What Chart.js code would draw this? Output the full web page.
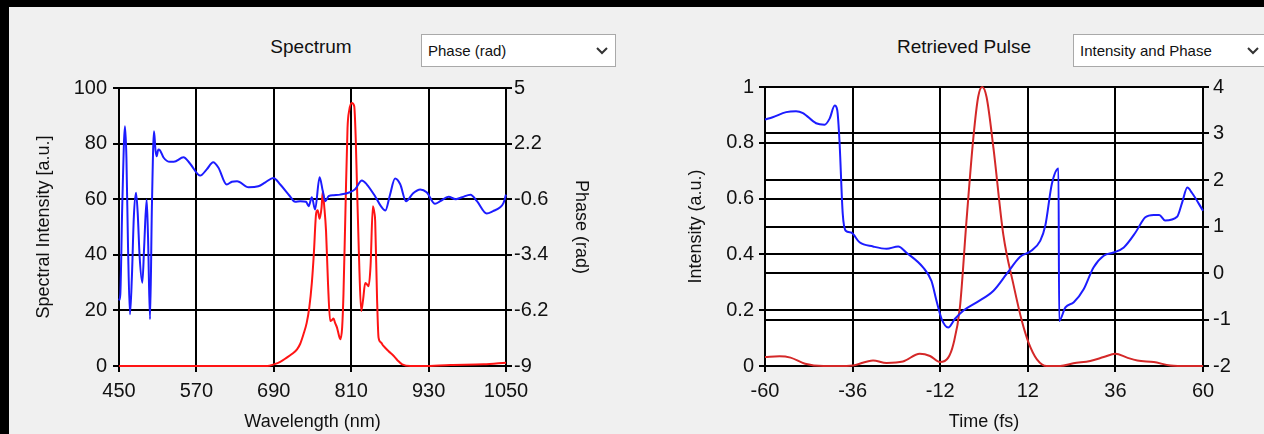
<!DOCTYPE html>
<html>
<head>
<meta charset="utf-8">
<title>Spectrum / Retrieved Pulse</title>
<script src="https://cdn.jsdelivr.net/npm/chart.js@4.4.0/dist/chart.umd.min.js"></script>
<style>
  body {
    margin: 0;
    width: 1264px;
    height: 434px;
    position: relative;
    overflow: hidden;
    background: #f0f0f0;
    font-family: "Liberation Sans", Arial, sans-serif;
    color: #111;
  }
  .frame-top { position: absolute; left: 0; top: 0; width: 1264px; height: 7px; background: #000; z-index: 5; }
  .frame-left { position: absolute; left: 0; top: 0; width: 9px; height: 434px; background: #000; z-index: 5; }
  .panel-title {
    position: absolute;
    top: 37px;
    font-size: 19px;
    line-height: 19px;
    white-space: nowrap;
    transform: translateX(-50%);
  }
  .combo {
    position: absolute;
    top: 34px;
    height: 31px;
    background: #fff;
    border: 1px solid #a9a9a9;
    font-size: 15px;
    white-space: nowrap;
  }
  .combo span { position: absolute; left: 6px; top: 8px; line-height: 15px; }
  .combo svg { position: absolute; top: 12px; }
  canvas { position: absolute; top: 70px; }
</style>
</head>
<body>
<div class="frame-top"></div>
<div class="frame-left"></div>

<div class="panel-title" style="left:311px">Spectrum</div>
<div class="combo" style="left:421px; width:193px">
  <span>Phase (rad)</span>
  <svg style="left:174px" width="12" height="8"><polyline points="1,1 6,6 11,1" fill="none" stroke="#333" stroke-width="2"/></svg>
</div>

<div class="panel-title" style="left:964px">Retrieved Pulse</div>
<div class="combo" style="left:1073px; width:200px">
  <span>Intensity and Phase</span>
  <svg style="left:173px" width="12" height="8"><polyline points="1,1 6,6 11,1" fill="none" stroke="#333" stroke-width="2"/></svg>
</div>

<canvas id="spectrum" width="640" height="364" style="left:0"></canvas>
<canvas id="pulse" width="624" height="364" style="left:640px"></canvas>

<script>
// ---- SPECTRUM DATA ----
const spectrumWl = [450, 600, 680, 690, 700, 710, 718, 726, 731, 736, 741, 745, 749, 752, 755.7, 758, 761, 764, 766, 768, 771, 774, 777.4, 780, 782.6, 785, 788, 791, 793, 796, 798, 801, 804.3, 807, 811, 814.7, 817, 818.8, 822, 825.5, 828.5, 831.7, 834, 836.9, 840, 843.6, 846, 847.2, 850, 852.4, 856, 860, 868, 876, 882, 889, 902, 922, 964, 1015, 1050];
const spectrumInt = [0, 0, 0, 0.6, 1.5, 3, 4.3, 6, 8, 11.4, 15.5, 21, 30, 40, 55, 56, 53, 57, 62.9, 58, 48.5, 30, 16.2, 16.5, 17.1, 15.5, 13.8, 11, 9.6, 14, 25.7, 55, 85.6, 92, 94.6, 93.4, 82, 66.5, 40, 19.8, 24, 29.9, 29.5, 28.7, 36, 57.5, 55, 52, 25, 10.2, 8.5, 7.2, 5.3, 3.6, 2, 0.6, 0, 0, 0.4, 0.6, 1.2];

const phaseWl = [450, 452, 455, 459.3, 461.5, 464, 467, 470, 473, 476.4, 479, 482, 486.2, 489, 492.9, 495, 498.1, 501, 504.3, 506.5, 508.4, 511, 513.6, 519, 529, 535, 550, 560, 576, 586, 596, 604, 617, 625, 633, 651, 666, 677, 689.5, 700, 715, 723, 731, 740, 744, 749, 754, 761, 766, 770, 775, 783, 793, 808, 816, 826.6, 834, 847, 856, 863, 870, 878, 886, 895, 906, 917, 927, 940, 948, 961, 972, 982, 995, 1005, 1020, 1030, 1041, 1046, 1050];
const phaseRad = [-5.7, -5.4, -1, 3.07, 1.5, -3, -6.4, -4.5, -1.5, -0.28, -1.3, -3.5, -4.81, -3, -0.62, -2.5, -6.65, -1, 2.82, 1.9, 1.56, 1.9, 1.86, 1.5, 1.28, 1.28, 1.51, 1.2, 0.59, 0.9, 1.26, 1.0, 0.14, 0.28, 0.31, 0.0, 0.05, 0.25, 0.47, 0.14, -0.45, -0.73, -0.7, -0.73, -0.95, -0.5, -1.12, 0.5, -0.2, -0.7, -0.45, -0.4, -0.37, -0.25, -0.1, 0.34, 0.15, -0.45, -0.95, -1.17, -0.4, 0.44, 0.15, -0.7, -0.3, -0.11, -0.25, -0.83, -0.7, -0.48, -0.6, -0.5, -0.37, -0.7, -1.32, -1.2, -1.0, -0.8, -0.37];

const spectrumTicks = [450, 570, 690, 810, 930, 1050];
const phaseTicks = [-9, -6.2, -3.4, -0.6, 2.2, 5];

// ---- RETRIEVED PULSE DATA ----
const pulseT = [-60, -56, -53, -49, -44, -40, -36, -30.4, -26.7, -22.2, -17.6, -14.8, -12.1, -9.8, -8.4, -6.6, -4.8, -2.9, -1.6, -0.5, 0.7, 2.6, 5.3, 8.1, 10.4, 12.2, 14.5, 17.2, 20.9, 24.5, 29.1, 32.8, 36, 39.2, 42, 46.5, 51.1, 55.7, 60];
const pulseInt = [0.032, 0.035, 0.03, 0.008, 0, 0, 0.002, 0.02, 0.011, 0.016, 0.044, 0.036, 0.014, 0.03, 0.078, 0.21, 0.52, 0.82, 0.964, 1.0, 0.964, 0.78, 0.47, 0.29, 0.16, 0.084, 0.024, 0, 0, 0.01, 0.018, 0.032, 0.044, 0.03, 0.02, 0.014, 0.002, 0, 0];

const pulsePhaseT = [-60, -57.9, -54.2, -51.5, -49.6, -46, -43.7, -42.3, -40.9, -40.2, -39.6, -38.7, -37.9, -36.4, -34.1, -30.4, -26.7, -23.5, -21.3, -16.7, -14.4, -13, -11.6, -9.8, -8, -5.7, -2, 2.6, 6.2, 9.9, 12.6, 15.4, 16.8, 18.6, 20.4, 20.6, 22.3, 24.6, 27.3, 30, 32.8, 35.5, 38.3, 41.5, 44.2, 46.5, 48, 49.6, 52.9, 54.3, 55.7, 57, 60];
const pulsePhase = [3.30, 3.35, 3.46, 3.48, 3.44, 3.22, 3.19, 3.32, 3.60, 3.50, 2.85, 1.27, 0.91, 0.87, 0.66, 0.57, 0.52, 0.57, 0.44, 0.12, -0.17, -0.60, -0.99, -1.17, -0.99, -0.81, -0.63, -0.38, -0.02, 0.35, 0.46, 0.69, 1.02, 1.92, 2.25, -1.03, -0.74, -0.63, -0.35, 0.12, 0.37, 0.44, 0.55, 0.87, 1.20, 1.25, 1.25, 1.13, 1.21, 1.52, 1.84, 1.72, 1.34];

const timeTicks = [-60, -36, -12, 12, 36, 60];

// ---- SHARED STYLE ----
Chart.defaults.font.family = '"Liberation Sans", Arial, sans-serif';
Chart.defaults.color = '#111';

const tickFont = { size: 20 };
const axisTitleFont = { size: 18 };
const gridStyle = { color: '#000', lineWidth: 2, tickLength: 6, tickColor: '#000' };
const borderStyle = { color: '#000', width: 2 };

const toPoints = (xs, ys) => xs.map((x, i) => ({ x: x, y: ys[i] }));
const fixedTicks = (values) => (scale) => { scale.ticks = values.map(v => ({ value: v })); };
// plain numbers, no thousands separator and no trailing zeros
const roundLabel = (v) => String(Math.round(v * 100) / 100);

// white plotting area, the rest stays panel grey
const plotBackground = {
  id: 'plotBackground',
  beforeDraw(chart) {
    const { ctx, chartArea: a } = chart;
    ctx.save();
    ctx.fillStyle = '#fff';
    ctx.fillRect(a.left, a.top, a.right - a.left, a.bottom - a.top);
    ctx.restore();
  }
};

const baseOptions = {
  responsive: false,
  animation: false,
  layout: { padding: { top: 17, left: 0, right: 0, bottom: 0 } },
  elements: {
    point: { radius: 0 },
    line: { cubicInterpolationMode: 'monotone', borderWidth: 2 }
  },
  plugins: { legend: { display: false }, tooltip: { enabled: false } }
};

// ---- SPECTRUM CHART ----
new Chart(document.getElementById('spectrum'), {
  type: 'line',
  data: {
    datasets: [
      { label: 'Phase', data: toPoints(phaseWl, phaseRad), yAxisID: 'y1', borderColor: '#1c1cff', order: 0, clip: 3 },
      { label: 'Spectral Intensity', data: toPoints(spectrumWl, spectrumInt), yAxisID: 'y', borderColor: '#ff1414', order: 1, clip: 3 }
    ]
  },
  options: Object.assign({}, baseOptions, {
    scales: {
      x: {
        type: 'linear', min: 450, max: 1050,
        afterBuildTicks: fixedTicks(spectrumTicks),
        afterFit: (s) => { s.height = 68; },
        grid: gridStyle, border: borderStyle,
        ticks: { font: tickFont, padding: 7, maxRotation: 0, callback: roundLabel },
        title: { display: true, text: 'Wavelength (nm)', font: axisTitleFont, padding: { top: 0, bottom: 1 } }
      },
      y: {
        position: 'left', min: 0, max: 100,
        afterFit: (s) => { s.width = 119; },
        grid: gridStyle, border: borderStyle,
        ticks: { font: tickFont, stepSize: 20, padding: 6, callback: roundLabel },
        title: { display: true, text: 'Spectral Intensity [a.u.]', font: axisTitleFont, padding: { top: 33, bottom: 0 } }
      },
      y1: {
        position: 'right', min: -9, max: 5,
        afterBuildTicks: fixedTicks(phaseTicks),
        afterFit: (s) => { s.width = 134; },
        grid: Object.assign({}, gridStyle, { drawOnChartArea: false }), border: borderStyle,
        ticks: { font: tickFont, padding: 2, callback: roundLabel },
        title: { display: true, text: 'Phase (rad)', font: axisTitleFont, padding: { top: 48, bottom: 0 } }
      }
    }
  }),
  plugins: [plotBackground]
});

// ---- RETRIEVED PULSE CHART ----
new Chart(document.getElementById('pulse'), {
  type: 'line',
  data: {
    datasets: [
      { label: 'Phase', data: toPoints(pulsePhaseT, pulsePhase), yAxisID: 'y1', borderColor: '#1c1cff', order: 0, clip: 3 },
      { label: 'Intensity', data: toPoints(pulseT, pulseInt), yAxisID: 'y', borderColor: '#d42828', order: 1, clip: 3 }
    ]
  },
  options: Object.assign({}, baseOptions, {
    scales: {
      x: {
        type: 'linear', min: -60, max: 60,
        afterBuildTicks: fixedTicks(timeTicks),
        afterFit: (s) => { s.height = 68; },
        grid: gridStyle, border: borderStyle,
        ticks: { font: tickFont, padding: 7, maxRotation: 0, callback: roundLabel },
        title: { display: true, text: 'Time (fs)', font: axisTitleFont, padding: { top: 0, bottom: 1 } }
      },
      y: {
        position: 'left', min: 0, max: 1,
        afterFit: (s) => { s.width = 125; },
        grid: gridStyle, border: borderStyle,
        ticks: { font: tickFont, stepSize: 0.2, padding: 5, callback: roundLabel },
        title: { display: true, text: 'Intensity (a.u.)', font: axisTitleFont, padding: { top: 45, bottom: 0 } }
      },
      y1: {
        position: 'right', min: -2, max: 4,
        afterFit: (s) => { s.width = 61; },
        grid: gridStyle, border: borderStyle,
        ticks: { font: tickFont, stepSize: 1, padding: 4, callback: roundLabel }
      }
    }
  }),
  plugins: [plotBackground]
});
</script>
</body>
</html>
